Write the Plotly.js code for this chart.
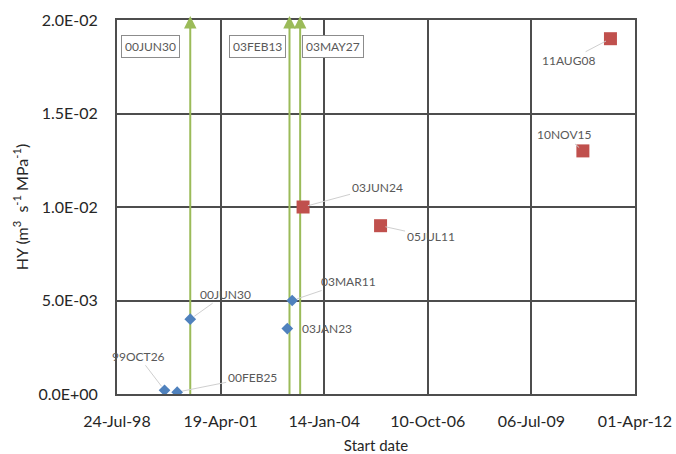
<!DOCTYPE html>
<html>
<head>
<meta charset="utf-8">
<script src="https://cdn.plot.ly/plotly-3.0.1.min.js"></script>
<style>
  html, body { margin: 0; padding: 0; background: #ffffff; }
  #chart { width: 676px; height: 454px; }
</style>
</head>
<body>
<div id="chart"></div>
<script>
// Tests with hydraulic response HY before the events (blue diamonds)
const blueDates  = ['1999-10-26', '2000-02-25', '2000-06-30', '2003-01-23', '2003-03-11'];
const blueHY     = [0.0002, 0.0001, 0.004, 0.0035, 0.005];
const blueLabels = ['99OCT26', '00FEB25', '00JUN30', '03JAN23', '03MAR11'];

// Tests after the events (red squares)
const redDates  = ['2003-06-24', '2005-07-11', '2010-11-15', '2011-08-08'];
const redHY     = [0.010, 0.009, 0.013, 0.019];
const redLabels = ['03JUN24', '05JUL11', '10NOV15', '11AUG08'];

// Event dates drawn as green arrows
const eventDates  = ['2000-06-30', '2003-02-13', '2003-05-27'];
const eventLabels = ['00JUN30', '03FEB13', '03MAY27'];

// Axis ticks
const xTickDates = ['1998-07-24', '2001-04-19', '2004-01-14', '2006-10-10', '2009-07-06', '2012-04-01'];
const yTickVals  = [0, 0.005, 0.010, 0.015, 0.020];
const yTickText  = ['0.0E+00', '5.0E-03', '1.0E-02', '1.5E-02', '2.0E-02'];

// Label placement (pixel offsets of each label from its point)
const blueOffsets = [[-26, -34, true], [75, -15, true], [35, -25, true], [40, 0, false], [56, -19, true]];
const redOffsets  = [[74, -20, true], [50, 11, true], [-18, -16, true], [-42, 22, true]];
const eventBoxPlacement = [['right', -10], ['right', -3], ['left', 2]];

const FONT = 'Lato, "Open Sans", "Liberation Sans", sans-serif';
const LABEL_COLOR = '#595959';
const GREEN = '#9BBB59';
const GRID = '#4d4d4d';
const yMax = yTickVals[yTickVals.length - 1];

const traces = [];

// Vertical event lines
eventDates.forEach(function (d) {
  traces.push({
    x: [d, d],
    y: [0, yMax],
    type: 'scatter',
    mode: 'lines',
    line: { color: GREEN, width: 2 },
    hoverinfo: 'skip',
    showlegend: false
  });
});

traces.push({
  x: blueDates, y: blueHY, type: 'scatter', mode: 'markers',
  marker: { symbol: 'diamond', size: 9, color: '#4F81BD' },
  showlegend: false
});

traces.push({
  x: redDates, y: redHY, type: 'scatter', mode: 'markers',
  marker: { symbol: 'square', size: 13, color: '#C0504D' },
  showlegend: false
});

const annotations = [];

// Arrowheads capping the event lines
eventDates.forEach(function (d) {
  annotations.push({
    x: d, y: yMax, xref: 'x', yref: 'y',
    text: '', showarrow: true,
    ax: 0, ay: 14,
    arrowhead: 2, arrowsize: 1.25, arrowwidth: 2, arrowcolor: GREEN,
    yshift: 4
  });
});

function pointLabel(x, y, text, off) {
  const a = {
    x: x, y: y, xref: 'x', yref: 'y', text: text,
    font: { family: FONT, size: 12, color: LABEL_COLOR }
  };
  if (off[2]) {
    a.showarrow = true;
    a.arrowhead = 0;
    a.arrowwidth = 1;
    a.arrowcolor = '#cfcfcf';
    a.standoff = 5;
    a.ax = off[0];
    a.ay = off[1];
  } else {
    a.showarrow = false;
    a.xshift = off[0];
    a.yshift = -off[1];
  }
  return a;
}

blueDates.forEach(function (d, i) { annotations.push(pointLabel(d, blueHY[i], blueLabels[i], blueOffsets[i])); });
redDates.forEach(function (d, i) { annotations.push(pointLabel(d, redHY[i], redLabels[i], redOffsets[i])); });

eventDates.forEach(function (d, i) {
  annotations.push({
    x: d, y: yMax, xref: 'x', yref: 'y',
    text: eventLabels[i], showarrow: false,
    xanchor: eventBoxPlacement[i][0], xshift: eventBoxPlacement[i][1],
    yanchor: 'top', yshift: -15,
    bgcolor: '#ffffff', bordercolor: '#8c8c8c', borderwidth: 1, borderpad: 3,
    font: { family: FONT, size: 12, color: LABEL_COLOR }
  });
});

const layout = {
  width: 676,
  height: 454,
  margin: { l: 117, r: 41, t: 20, b: 60 },
  paper_bgcolor: '#ffffff',
  plot_bgcolor: '#ffffff',
  font: { family: FONT, color: '#262626' },
  xaxis: {
    type: 'date',
    range: [xTickDates[0], xTickDates[xTickDates.length - 1]],
    tickvals: xTickDates,
    tickformat: '%d-%b-%y',
    tickfont: { family: FONT, size: 16, color: '#262626' },
    ticks: '',
    ticklabelstandoff: 12,
    showgrid: true, gridcolor: GRID, gridwidth: 2,
    showline: true, linecolor: GRID, linewidth: 2, mirror: true,
    zeroline: false,
    title: { text: 'Start date', font: { family: FONT, size: 15, color: '#262626' }, standoff: 12 }
  },
  yaxis: {
    range: [0, yMax],
    tickvals: yTickVals,
    ticktext: yTickText,
    tickfont: { family: FONT, size: 16, color: '#262626' },
    ticks: '',
    ticklabelstandoff: 14,
    showgrid: true, gridcolor: GRID, gridwidth: 2,
    showline: true, linecolor: GRID, linewidth: 2, mirror: true,
    zeroline: false,
    title: {
      text: 'HY (m<sup>3</sup>  s<sup>-1</sup> MPa<sup>-1</sup>)',
      font: { family: FONT, size: 16, color: '#262626' },
      standoff: 6
    }
  },
  annotations: annotations
};

Plotly.newPlot('chart', traces, layout, { displayModeBar: false, staticPlot: true });
</script>
</body>
</html>
